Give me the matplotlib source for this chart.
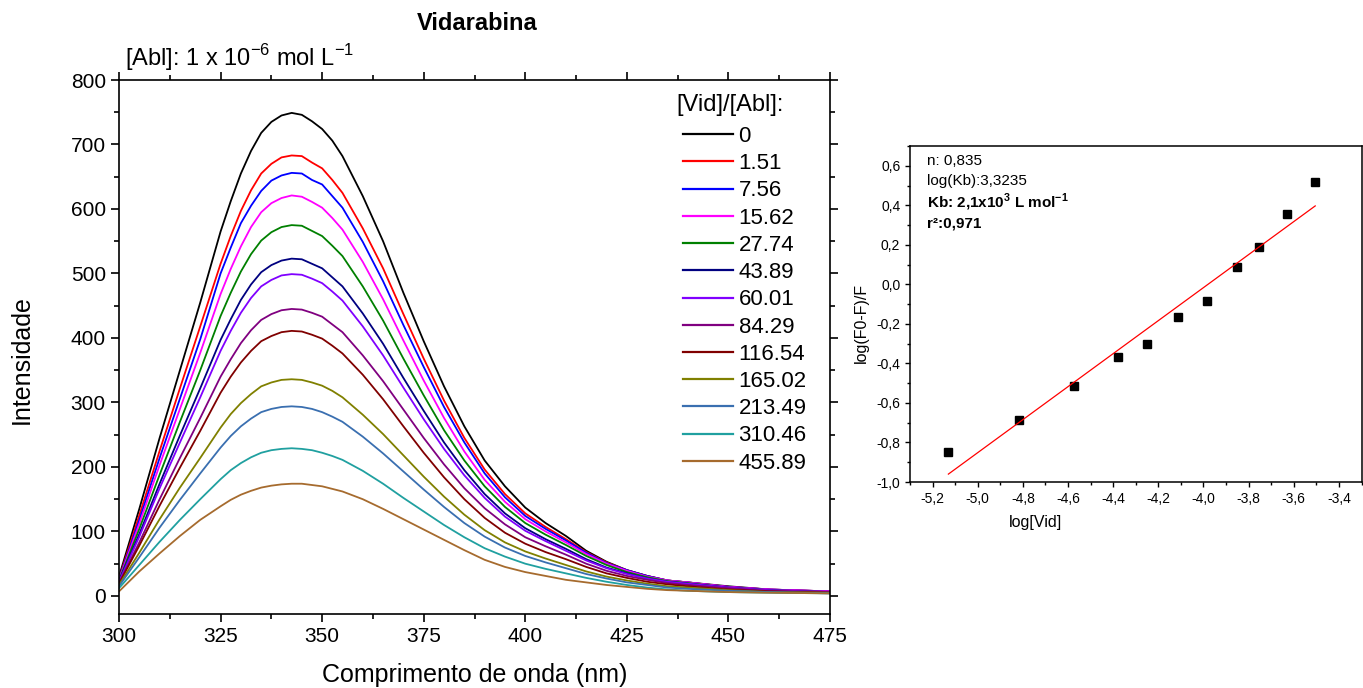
import numpy as np
import matplotlib
matplotlib.use("Agg")
import matplotlib.pyplot as plt
from matplotlib.lines import Line2D
from matplotlib.ticker import MultipleLocator, FuncFormatter

plt.rcParams['font.family'] = ['Liberation Sans', 'DejaVu Sans']
plt.rcParams['mathtext.fontset'] = 'custom'
plt.rcParams['mathtext.rm'] = 'Liberation Sans'
plt.rcParams['mathtext.bf'] = 'Liberation Sans:bold'
plt.rcParams['axes.unicode_minus'] = False

# ---- emission spectra ----
wavelength = [300, 305, 310, 315, 320, 325, 327.5, 330, 332.5, 335, 337.5, 340, 342.5,
              345, 347.5, 350, 352.5, 355, 360, 365, 370, 375, 380, 385, 390, 395, 400,
              405, 410, 415, 420, 425, 430, 435, 440, 450, 460, 475]

ratio_labels = ['0', '1.51', '7.56', '15.62', '27.74', '43.89', '60.01', '84.29',
                '116.54', '165.02', '213.49', '310.46', '455.89']

int_0 = [30, 135, 245, 350, 455, 565, 612, 655, 690, 718, 735, 745, 749, 746, 736, 724,
         706, 682, 620, 550, 470, 395, 325, 263, 210, 170, 137, 113, 93, 70, 53, 40, 31,
         24, 21, 15, 10, 7]
int_1_51 = [27, 125, 225, 322, 418, 515, 558, 597, 629, 655, 670, 680, 683, 682, 672,
            663, 645, 625, 570, 508, 437, 368, 303, 245, 196, 158, 128, 107, 88, 68, 52,
            40, 31, 24, 21, 14, 10, 7]
int_7_56 = [26, 118, 214, 306, 398, 500, 540, 578, 605, 628, 644, 652, 656, 655, 645,
            638, 620, 602, 549, 488, 420, 355, 293, 238, 190, 153, 124, 104, 86, 67, 51,
            40, 31, 24, 21, 14, 10, 7]
int_15_62 = [25, 112, 203, 290, 377, 468, 507, 542, 572, 595, 609, 617, 621, 619, 611,
             602, 586, 568, 518, 460, 396, 334, 276, 224, 180, 146, 119, 100, 83, 65, 50,
             39, 30, 24, 21, 14, 10, 7]
int_27_74 = [24, 104, 188, 270, 350, 434, 470, 503, 530, 551, 564, 572, 575, 574, 566,
             558, 543, 527, 480, 427, 368, 311, 257, 210, 170, 138, 113, 95, 79, 62, 48,
             37, 29, 23, 20, 13, 9, 6]
int_43_89 = [23, 96, 174, 249, 322, 397, 429, 459, 483, 502, 513, 520, 523, 522, 515,
             508, 494, 480, 438, 391, 338, 287, 238, 195, 158, 128, 105, 88, 73, 57, 44,
             35, 27, 22, 19, 13, 9, 6]
int_60_01 = [22, 92, 167, 238, 308, 380, 411, 439, 462, 480, 490, 497, 499, 498, 492,
             485, 472, 458, 418, 373, 323, 274, 228, 187, 152, 123, 101, 85, 70, 55, 43,
             34, 27, 22, 19, 13, 9, 6]
int_84_29 = [20, 83, 150, 214, 276, 340, 367, 392, 412, 428, 437, 443, 445, 444, 439,
             433, 421, 409, 373, 333, 289, 245, 204, 167, 136, 111, 91, 77, 64, 50, 39,
             31, 25, 20, 17, 12, 8, 6]
int_116_54 = [19, 78, 140, 199, 256, 315, 340, 362, 380, 395, 403, 409, 411, 410, 405,
              399, 388, 376, 343, 305, 263, 222, 184, 150, 121, 98, 81, 68, 57, 45, 35,
              28, 22, 18, 15, 10, 7, 5]
int_165_02 = [17, 67, 119, 168, 214, 261, 282, 299, 313, 325, 331, 335, 336, 335, 331,
              326, 318, 308, 281, 251, 218, 185, 154, 126, 102, 83, 69, 58, 48, 38, 30,
              24, 19, 15, 13, 9, 6, 5]
int_213_49 = [15, 60, 106, 149, 190, 230, 248, 263, 275, 285, 290, 293, 294, 293, 290,
              285, 278, 270, 247, 221, 193, 165, 138, 113, 92, 75, 62, 52, 43, 34, 27,
              21, 17, 13, 11, 8, 6, 4]
int_310_46 = [12, 48, 84, 118, 150, 181, 195, 206, 215, 222, 226, 228, 229, 228, 226,
              222, 217, 211, 194, 174, 152, 131, 110, 91, 74, 61, 50, 42, 35, 28, 22,
              17, 13, 10, 8, 6, 5, 4]
int_455_89 = [7, 38, 66, 93, 118, 139, 149, 157, 163, 168, 171, 173, 174, 174, 172,
              170, 166, 162, 150, 135, 119, 103, 87, 71, 56, 45, 37, 31, 25, 21, 17,
              14, 11, 9, 8, 6, 5, 4]

spectra = [int_0, int_1_51, int_7_56, int_15_62, int_27_74, int_43_89, int_60_01,
           int_84_29, int_116_54, int_165_02, int_213_49, int_310_46, int_455_89]
colors = ['#000000', '#FF0000', '#0000FF', '#FF00FF', '#008000', '#000080', '#8000FF',
          '#800080', '#800000', '#808000', '#3A6FB0', '#20A0A0', '#A66B2E']

# ---- double-log (binding) plot ----
log_vid = [-5.130, -4.817, -4.573, -4.380, -4.250, -4.112, -3.984, -3.852, -3.756,
           -3.628, -3.505]
log_quench = [-0.848, -0.688, -0.514, -0.366, -0.300, -0.167, -0.085, 0.089, 0.190,
              0.356, 0.519]
n_sites = 0.835
log_kb = 3.3235

W, H = 1363, 688
fig = plt.figure(figsize=(W / 100, H / 100), dpi=100)


def fx(px):
    return px / W


def fy(py):
    return 1 - py / H


# left panel: spectra
ax = fig.add_axes([fx(119), fy(614), fx(830) - fx(119), fy(80) - fy(614)])
for vals, col, lab in zip(spectra, colors, ratio_labels):
    ax.plot(wavelength, vals, color=col, lw=1.3, label=lab)
ax.set_xlim(300, 475)
ax.set_ylim(-28, 800)
ax.xaxis.set_major_locator(MultipleLocator(25))
ax.xaxis.set_minor_locator(MultipleLocator(12.5))
ax.yaxis.set_major_locator(MultipleLocator(100))
ax.yaxis.set_minor_locator(MultipleLocator(50))
ax.tick_params(which='both', direction='out', width=1.2, labelsize=15,
               top=True, right=True, labeltop=False, labelright=False)
ax.tick_params(which='major', length=6)
ax.tick_params(which='minor', length=3.5)
for s in ax.spines.values():
    s.set_linewidth(1.2)

handles = [Line2D([], [], color=c, lw=1.6) for c in colors]
ax.legend(handles, ratio_labels, loc='upper left',
          bbox_to_anchor=(fx(683), fy(126)), bbox_transform=fig.transFigure,
          frameon=False, fontsize=16, handlelength=2.25, handletextpad=0.25,
          labelspacing=0.28, borderpad=0, borderaxespad=0)
fig.text(fx(676), fy(105), '[Vid]/[Abl]:', fontsize=17, ha='left', va='center')

fig.text(fx(477), fy(24), 'Vidarabina', fontsize=17, fontweight='bold',
         ha='center', va='center')
fig.text(fx(125), fy(58), r'[Abl]: 1 x 10$^{\mathregular{-6}}$ mol L$^{\mathregular{-1}}$',
         fontsize=17, ha='left', va='center')
fig.text(fx(475), fy(675), 'Comprimento de onda (nm)', fontsize=18,
         ha='center', va='center')
fig.text(fx(22), fy(360), 'Intensidade', fontsize=18, rotation=90,
         ha='center', va='center')

# right panel: log[(F0-F)/F] vs log[Vid]
ax2 = fig.add_axes([fx(910), fy(482), fx(1361.5) - fx(910), fy(146) - fy(482)])
ax2.plot(log_vid, log_quench, 's', color='black', ms=5.5)
xs = np.array([min(log_vid), max(log_vid)])
ax2.plot(xs, n_sites * xs + log_kb, color='#FF0000', lw=0.9)
ax2.set_xlim(-5.3, -3.3)
ax2.set_ylim(-1.0, 0.7)
ax2.xaxis.set_major_locator(MultipleLocator(0.2))
ax2.xaxis.set_minor_locator(MultipleLocator(0.1))
ax2.yaxis.set_major_locator(MultipleLocator(0.2))
ax2.yaxis.set_minor_locator(MultipleLocator(0.1))
comma = FuncFormatter(lambda v, p: ('%.1f' % v).replace('.', ',').replace('-0,0', '0,0'))
ax2.xaxis.set_major_formatter(comma)
ax2.yaxis.set_major_formatter(comma)
ax2.tick_params(which='both', direction='out', width=1.0, labelsize=10)
ax2.tick_params(which='major', length=3.5)
ax2.tick_params(which='minor', length=2)
for s in ax2.spines.values():
    s.set_linewidth(1.1)

fig.text(fx(1035), fy(523), 'log[Vid]', fontsize=11.5, ha='center', va='center')
fig.text(fx(861), fy(323), 'log(F0-F)/F', fontsize=11.5, rotation=90,
         ha='center', va='center')

fig.text(fx(927), fy(161), 'n: 0,835', fontsize=11, ha='left', va='center')
fig.text(fx(927), fy(181), 'log(Kb):3,3235', fontsize=11, ha='left', va='center')
fig.text(fx(927), fy(202), r'Kb: 2,1x10$^{\mathbf{3}}$ L mol$^{\mathbf{-1}}$', fontsize=11,
         fontweight='bold', ha='left', va='center')
fig.text(fx(927), fy(223), 'r²:0,971', fontsize=11, fontweight='bold',
         ha='left', va='center')

fig.savefig('out.png', dpi=100)
